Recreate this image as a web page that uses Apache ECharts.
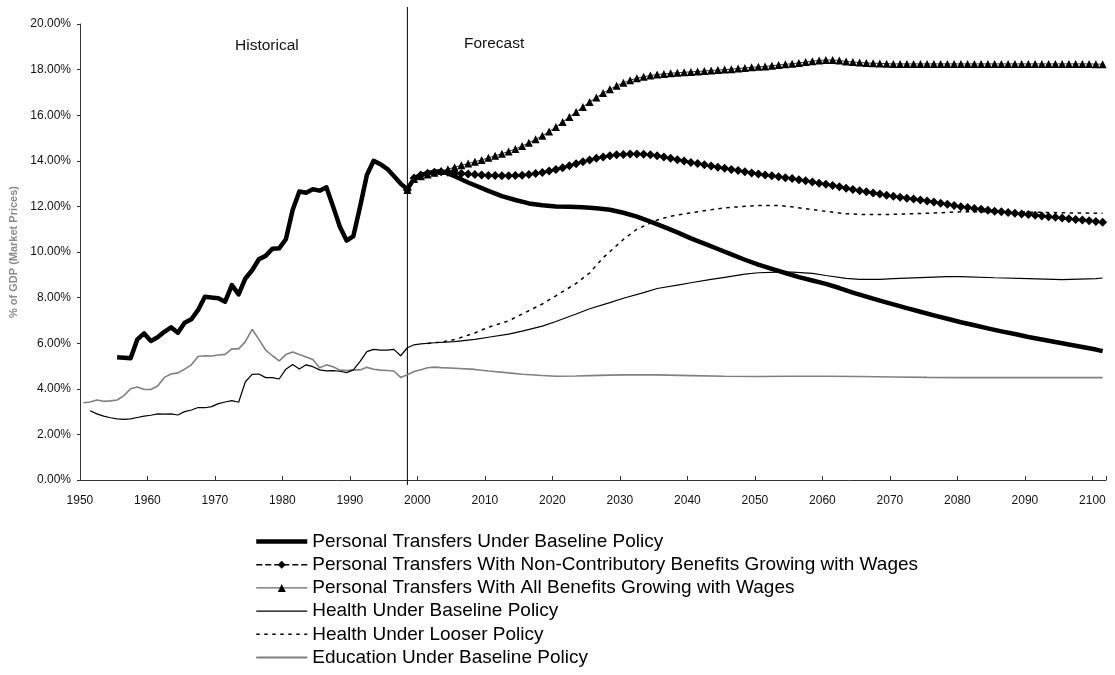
<!DOCTYPE html>
<html>
<head>
<meta charset="utf-8">
<script src="https://cdn.jsdelivr.net/npm/echarts@6/dist/echarts.min.js"></script>
<style>
html,body{margin:0;padding:0;background:#fff;}
#chart{width:1115px;height:675px;}
</style>
</head>
<body>
<div id="chart"></div>
<script>
// ---- categories ----
const YEAR_FIRST = 1950;
const YEAR_LAST = 2101;
const DIVIDER_YEAR = '1998';
const xTickEvery = 10;
const yTickValues = [0, 2, 4, 6, 8, 10, 12, 14, 16, 18, 20];

// ---- series names ----
const names = [
  'Personal Transfers Under Baseline Policy',
  'Personal Transfers With Non-Contributory Benefits Growing with Wages',
  'Personal Transfers With All Benefits Growing with Wages',
  'Health Under Baseline Policy',
  'Health Under Looser Policy',
  'Education Under Baseline Policy'
];

// ---- Personal transfers, baseline (historical annual from 1955, then forecast points) ----
const ptBaseHistStart = 1955;
const ptBaseHist = [
  5.38, 5.36, 5.34, 6.17, 6.43,
  6.10, 6.26, 6.50, 6.70, 6.46,
  6.90, 7.05, 7.46, 8.04, 8.00,
  7.97, 7.82, 8.55, 8.14, 8.84,
  9.20, 9.68, 9.83, 10.14, 10.16,
  10.56, 11.84, 12.65, 12.60, 12.75,
  12.69, 12.84, 11.99, 11.11, 10.50,
  10.70, 12.00, 13.38, 14.00, 13.85,
  13.65, 13.33, 13.00, 12.75
];
const ptBaseFcst = [
  [1999, 13.23], [2000, 13.38], [2001, 13.46], [2002, 13.52], [2003, 13.54],
  [2004, 13.45], [2005, 13.32], [2007, 13.05], [2010, 12.68], [2012, 12.45],
  [2014, 12.28], [2016, 12.13], [2018, 12.05], [2020, 12.00], [2022, 11.98],
  [2024, 11.96], [2026, 11.92], [2028, 11.85], [2030, 11.72], [2032, 11.55],
  [2034, 11.33], [2036, 11.10], [2038, 10.86], [2040, 10.60], [2042, 10.37],
  [2044, 10.13], [2046, 9.90], [2048, 9.66], [2050, 9.45], [2052, 9.26],
  [2054, 9.08], [2056, 8.90], [2058, 8.75], [2060, 8.60], [2062, 8.42],
  [2064, 8.22], [2066, 8.04], [2068, 7.87], [2070, 7.70], [2072, 7.54],
  [2074, 7.38], [2076, 7.22], [2078, 7.07], [2080, 6.92], [2082, 6.79],
  [2084, 6.65], [2086, 6.52], [2088, 6.40], [2090, 6.27], [2092, 6.16],
  [2094, 6.05], [2096, 5.94], [2098, 5.83], [2100, 5.72], [2101, 5.65]
];

// ---- Non-contributory benefits growing with wages (annual from 1998) ----
const ptNonContribStart = 1998;
const ptNonContrib = [
  12.72, 13.25, 13.38, 13.45, 13.50, 13.52, 13.50, 13.47, 13.44, 13.42,
  13.40, 13.38, 13.36, 13.35, 13.34, 13.34, 13.35, 13.37, 13.40, 13.44,
  13.49, 13.55, 13.62, 13.70, 13.78, 13.87, 13.96, 14.04, 14.11, 14.17,
  14.22, 14.26, 14.28, 14.30, 14.30, 14.29, 14.26, 14.22, 14.17, 14.11,
  14.05, 13.99, 13.93, 13.88, 13.83, 13.77, 13.72, 13.67, 13.62, 13.57,
  13.52, 13.47, 13.42, 13.38, 13.34, 13.30, 13.26, 13.22, 13.17, 13.12,
  13.07, 13.02, 12.97, 12.92, 12.86, 12.80, 12.74, 12.69, 12.64, 12.59,
  12.54, 12.49, 12.44, 12.40, 12.36, 12.32, 12.28, 12.24, 12.19, 12.14,
  12.09, 12.04, 11.99, 11.95, 11.91, 11.87, 11.83, 11.79, 11.76, 11.73,
  11.70, 11.67, 11.64, 11.61, 11.58, 11.55, 11.52, 11.49, 11.46, 11.43,
  11.40, 11.37, 11.34, 11.31
];

// ---- All benefits growing with wages (annual from 1998) ----
const ptAllStart = 1998;
const ptAll = [
  12.72, 13.20, 13.32, 13.40, 13.48, 13.55, 13.63, 13.72, 13.80, 13.88,
  13.96, 14.04, 14.13, 14.22, 14.31, 14.41, 14.52, 14.65, 14.79, 14.94,
  15.10, 15.28, 15.48, 15.70, 15.92, 16.14, 16.36, 16.58, 16.78, 16.97,
  17.14, 17.29, 17.42, 17.53, 17.62, 17.69, 17.74, 17.78, 17.81, 17.84,
  17.86, 17.88, 17.90, 17.92, 17.94, 17.96, 17.98, 18.00, 18.02, 18.05,
  18.07, 18.10, 18.12, 18.14, 18.17, 18.20, 18.23, 18.26, 18.29, 18.33,
  18.37, 18.40, 18.42, 18.42, 18.40, 18.36, 18.33, 18.31, 18.29, 18.28,
  18.27, 18.26, 18.25, 18.25, 18.25, 18.25, 18.25, 18.25, 18.25, 18.25,
  18.25, 18.25, 18.25, 18.25, 18.25, 18.25, 18.25, 18.25, 18.25, 18.25,
  18.25, 18.25, 18.25, 18.25, 18.25, 18.25, 18.25, 18.25, 18.25, 18.25,
  18.25, 18.25, 18.24, 18.24
];

// ---- Health, baseline ----
const healthHistStart = 1951;
const healthHist = [
  3.04, 2.90, 2.80, 2.73, 2.68, 2.66, 2.68, 2.74, 2.80,
  2.84, 2.90, 2.89, 2.90, 2.85, 3.00, 3.07, 3.18, 3.17, 3.22,
  3.35, 3.42, 3.48, 3.41, 4.31, 4.63, 4.65, 4.49, 4.49, 4.43,
  4.86, 5.07, 4.87, 5.05, 4.97, 4.83, 4.79, 4.80, 4.77, 4.71,
  4.83, 5.20, 5.63, 5.73, 5.70, 5.70, 5.73, 5.45, 5.80
];
const healthFcst = [
  [1999, 5.93], [2000, 5.97], [2002, 6.02], [2005, 6.07], [2008, 6.17],
  [2010, 6.26], [2013, 6.40], [2015, 6.53], [2018, 6.75], [2020, 6.95],
  [2023, 7.28], [2025, 7.51], [2028, 7.78], [2030, 7.97], [2033, 8.22],
  [2035, 8.40], [2038, 8.55], [2040, 8.65], [2043, 8.80], [2045, 8.89],
  [2048, 9.03], [2050, 9.09], [2053, 9.12], [2055, 9.12], [2058, 9.06],
  [2060, 8.97], [2063, 8.84], [2065, 8.80], [2068, 8.80], [2070, 8.83],
  [2075, 8.89], [2078, 8.92], [2080, 8.92], [2085, 8.87], [2090, 8.83],
  [2095, 8.79], [2100, 8.83], [2101, 8.86]
];

// ---- Health, looser policy ----
const healthLoose = [
  [2001, 5.99], [2003, 6.05], [2005, 6.16], [2008, 6.45], [2010, 6.70],
  [2013, 6.98], [2015, 7.28], [2018, 7.72], [2020, 8.08], [2023, 8.62],
  [2025, 9.08], [2027, 9.75], [2030, 10.55], [2032, 11.00], [2035, 11.40],
  [2037, 11.57], [2040, 11.72], [2045, 11.94], [2050, 12.04], [2053, 12.04],
  [2055, 11.98], [2058, 11.86], [2060, 11.78], [2063, 11.68], [2065, 11.65],
  [2070, 11.65], [2075, 11.70], [2080, 11.76], [2085, 11.76], [2090, 11.75],
  [2095, 11.72], [2100, 11.70], [2101, 11.70]
];

// ---- Education, baseline ----
const eduHistStart = 1950;
const eduHist = [
  3.39, 3.42, 3.51, 3.45, 3.47, 3.51, 3.70, 4.00, 4.08, 3.97,
  3.97, 4.12, 4.50, 4.65, 4.70, 4.86, 5.05, 5.42, 5.45, 5.44,
  5.48, 5.51, 5.75, 5.75, 6.07, 6.61, 6.17, 5.70, 5.45, 5.22,
  5.50, 5.61, 5.50, 5.39, 5.28, 4.92, 5.05, 4.97, 4.82, 4.80,
  4.83, 4.83, 4.94, 4.86, 4.82, 4.80, 4.78, 4.50, 4.62
];
const eduFcst = [
  [1999, 4.76], [2000, 4.84], [2001, 4.92], [2002, 4.95], [2003, 4.93],
  [2005, 4.90], [2008, 4.85], [2010, 4.78], [2013, 4.70], [2015, 4.64],
  [2018, 4.58], [2020, 4.55], [2023, 4.56], [2025, 4.58], [2028, 4.60],
  [2030, 4.61], [2035, 4.61], [2040, 4.58], [2045, 4.55], [2050, 4.54],
  [2055, 4.55], [2060, 4.55], [2065, 4.54], [2070, 4.52], [2075, 4.50],
  [2080, 4.49], [2090, 4.49], [2100, 4.49], [2101, 4.49]
];

// ---- build helpers ----
const years = [];
for (let y = YEAR_FIRST; y <= YEAR_LAST; y++) years.push(String(y));
const fromStart = (start, arr) => arr.map((v, i) => [String(start + i), v]);
const fromPairs = (arr) => arr.map(p => [String(p[0]), p[1]]);

const FONT = 'Liberation Sans, Arial, sans-serif';
const chart = echarts.init(document.getElementById('chart'), null, {renderer: 'canvas'});

const option = {
  animation: false,
  backgroundColor: '#ffffff',
  textStyle: {fontFamily: FONT},
  grid: [
    {left: 80, right: 9, top: 24, bottom: 195, containLabel: false},
    {left: 80, right: 9, top: 7, bottom: 190, containLabel: false}
  ],
  xAxis: [
    {
      type: 'category', gridIndex: 0, data: years, boundaryGap: true,
      axisLine: {lineStyle: {color: '#333', width: 1}},
      axisTick: {show: true, inside: true, length: 4, interval: xTickEvery - 1, lineStyle: {color: '#333'}},
      axisLabel: {interval: xTickEvery - 1, fontSize: 12, color: '#111', margin: 15, fontFamily: FONT, padding: [0, 7, 0, 0]},
      splitLine: {show: false}
    },
    {type: 'category', gridIndex: 1, data: years, boundaryGap: true, show: false}
  ],
  yAxis: [
    {
      type: 'value', gridIndex: 0, min: yTickValues[0], max: yTickValues[yTickValues.length - 1], interval: 2,
      name: '% of GDP (Market Prices)', nameLocation: 'middle', nameGap: 60, nameRotate: 90,
      nameTextStyle: {fontSize: 11, fontWeight: 'bold', color: '#8a8a8a', fontFamily: FONT},
      axisLine: {show: true, lineStyle: {color: '#333', width: 1}},
      axisTick: {show: true, inside: false, length: 3, lineStyle: {color: '#333'}},
      axisLabel: {fontSize: 12, color: '#111', margin: 9, fontFamily: FONT,
        formatter: v => v.toFixed(2) + '%'},
      splitLine: {show: false}
    },
    {type: 'value', gridIndex: 1, min: 0, max: 1, show: false}
  ],
  legend: {
    orient: 'vertical', left: 249, top: 527,
    itemWidth: 51, itemHeight: 10, itemGap: 4.2,
    selectedMode: false,
    textStyle: {fontSize: 19, color: '#000', fontFamily: FONT, lineHeight: 19},
    data: [
      {name: names[0], lineStyle: {width: 4.5, color: '#000'}, itemStyle: {opacity: 0}},
      {name: names[1], lineStyle: {width: 1.5, color: '#000'}},
      {name: names[2], lineStyle: {width: 1.2, color: '#666'}},
      {name: names[3], lineStyle: {width: 1.3, color: '#000'}, itemStyle: {opacity: 0}},
      {name: names[4], lineStyle: {width: 1.5, color: '#000'}, itemStyle: {opacity: 0}},
      {name: names[5], lineStyle: {width: 2, color: '#808080'}, itemStyle: {opacity: 0}}
    ]
  },
  graphic: [
    {type: 'text', left: 267 - 32, top: 38, style: {text: 'Historical', fontSize: 15.5, fill: '#111', fontFamily: FONT}},
    {type: 'text', left: 494 - 30, top: 36, style: {text: 'Forecast', fontSize: 15.5, fill: '#111', fontFamily: FONT}}
  ],
  series: [
    {
      name: names[5], type: 'line', xAxisIndex: 0, yAxisIndex: 0,
      data: fromStart(eduHistStart, eduHist).concat(fromPairs(eduFcst)),
      symbol: 'none', color: '#808080', lineStyle: {color: '#808080', width: 1.6}, z: 2
    },
    {
      name: names[3], type: 'line', xAxisIndex: 0, yAxisIndex: 0,
      data: fromStart(healthHistStart, healthHist).concat(fromPairs(healthFcst)),
      symbol: 'none', color: '#000', lineStyle: {color: '#000', width: 1.2}, z: 3
    },
    {
      name: names[4], type: 'line', xAxisIndex: 0, yAxisIndex: 0,
      data: fromPairs(healthLoose),
      symbol: 'none', color: '#000', lineStyle: {color: '#000', width: 1.5, type: [3.5, 4.5]}, z: 3
    },
    {
      name: names[2], type: 'line', xAxisIndex: 0, yAxisIndex: 0,
      data: fromStart(ptAllStart, ptAll),
      symbol: 'triangle', symbolSize: 8, showAllSymbol: true,
      color: '#000', itemStyle: {color: '#000'}, lineStyle: {color: '#333', width: 1}, z: 4
    },
    {
      name: names[1], type: 'line', xAxisIndex: 0, yAxisIndex: 0,
      data: fromStart(ptNonContribStart, ptNonContrib),
      symbol: 'diamond', symbolSize: 9, showAllSymbol: true,
      color: '#000', itemStyle: {color: '#000'}, lineStyle: {color: '#000', width: 1.2, type: [6, 3]}, z: 4
    },
    {
      name: names[0], type: 'line', xAxisIndex: 0, yAxisIndex: 0,
      data: fromStart(ptBaseHistStart, ptBaseHist).concat(fromPairs(ptBaseFcst)),
      symbol: 'none', color: '#000', lineStyle: {color: '#000', width: 4.5, join: 'round'}, z: 5
    },
    {
      name: 'divider', type: 'line', xAxisIndex: 1, yAxisIndex: 1,
      data: [[DIVIDER_YEAR, 0], [DIVIDER_YEAR, 1]],
      symbol: 'none', silent: true, lineStyle: {color: '#000', width: 1}, z: 1
    }
  ]
};
chart.setOption(option);
</script>
</body>
</html>
